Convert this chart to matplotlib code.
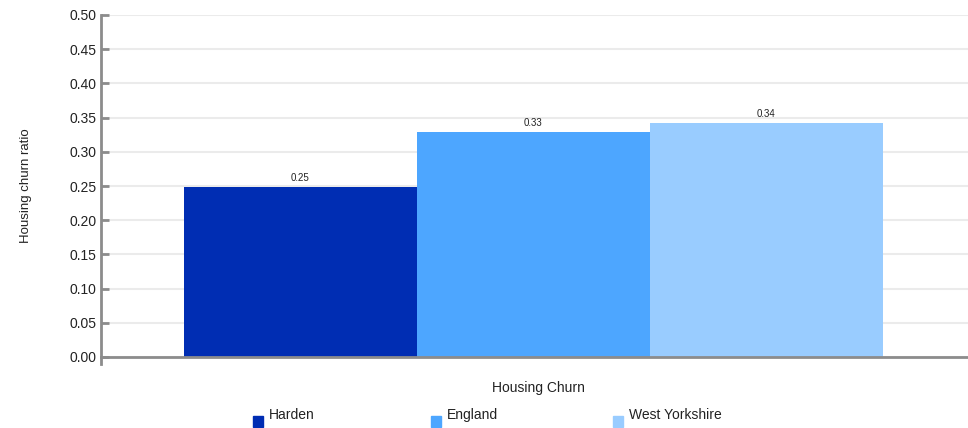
import matplotlib
matplotlib.use('Agg')
import matplotlib.pyplot as plt
import matplotlib.patches as mpatches

# data
areas = ['Harden', 'England', 'West Yorkshire']
churn = [0.249, 0.329, 0.342]
churn_labels = ['0.25', '0.33', '0.34']
colors = ['#002db3', '#4da6ff', '#99ccff']
yticks = [0.0, 0.05, 0.10, 0.15, 0.20, 0.25, 0.30, 0.35, 0.40, 0.45, 0.50]

plt.rcParams['font.family'] = ['Liberation Sans', 'DejaVu Sans']

fig = plt.figure(figsize=(9.68, 4.28), dpi=100)
ax = fig.add_axes([101 / 968, 1 - 357 / 428, 867 / 968, 342 / 428])

xs = list(range(len(areas)))
bars = ax.bar(xs, churn, width=1.0, color=colors, zorder=2)
for b, lab in zip(bars, churn_labels):
    ax.text(b.get_x() + b.get_width() / 2, b.get_height() + 0.006, lab,
            ha='center', va='bottom', fontsize=7, color='#222222')

ax.set_xlim(-0.856, 2.865)
ax.set_ylim(0, 0.5)
ax.set_yticks(yticks)
ax.set_yticklabels(['%.2f' % v for v in yticks], fontsize=10, color='#222222')
ax.set_xticks([])
ax.yaxis.grid(True, color='#ebebeb', linewidth=1.5, zorder=0)
ax.tick_params(axis='y', direction='in', length=6, width=2, color='#8c8c8c', pad=3)

for s in ['top', 'right']:
    ax.spines[s].set_visible(False)
ax.spines['left'].set_color('#8c8c8c')
ax.spines['left'].set_linewidth(2)
ax.spines['bottom'].set_color('#8c8c8c')
ax.spines['bottom'].set_linewidth(2)
ax.spines['left'].set_bounds(-0.01, 0.5)

ax.set_ylabel('Housing churn ratio', fontsize=9.5, color='#222222', labelpad=27)
ax.set_xlabel('Housing Churn', fontsize=10, color='#222222', labelpad=15)
ax.xaxis.set_label_coords(0.505, -0.07)

# legend placed by hand
leg_x = [253, 431, 613]
for x0, name, c in zip(leg_x, areas, colors):
    fig.patches.append(mpatches.Rectangle((x0 / 968, 1 - 427 / 428), 10 / 968, 11 / 428,
                                          transform=fig.transFigure, color=c))
    fig.text((x0 + 16) / 968, 1 - 415 / 428, name, fontsize=10, color='#222222',
             va='center', ha='left')

fig.savefig('out.png', dpi=100)
